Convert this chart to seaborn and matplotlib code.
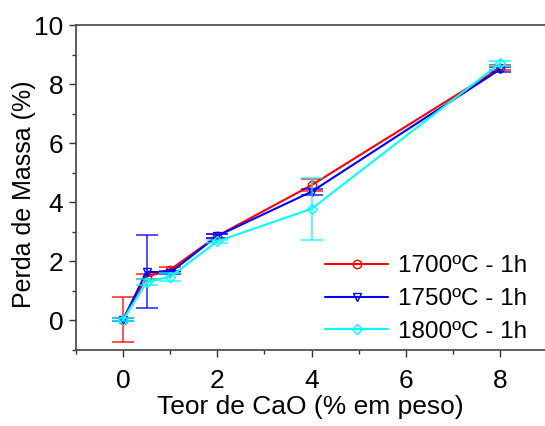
import numpy as np
import pandas as pd
import matplotlib
matplotlib.use("Agg")
import matplotlib.pyplot as plt
import seaborn as sns

# CaO content (% by weight)
teor_cao = [0, 0.5, 1, 2, 4, 8]

# mass loss (%) for each temperature, and the error bars
perda_1700 = [0.03, 1.48, 1.72, 2.86, 4.58, 8.55]
erro_1700 = [0.75, 0.08, 0.08, 0.06, 0.20, 0.08]
perda_1750 = [0.03, 1.65, 1.62, 2.86, 4.36, 8.50]
erro_1750 = [0.05, 1.24, 0.06, 0.06, 0.10, 0.08]
perda_1800 = [0.03, 1.29, 1.48, 2.68, 3.78, 8.70]
erro_1800 = [0.05, 0.10, 0.14, 0.06, 1.05, 0.08]

rotulos = ["1700ºC - 1h", "1750ºC - 1h", "1800ºC - 1h"]
cores = ["#ff0000", "#0000ff", "#00ffff"]
marcadores = ["o", "v", "D"]

sns.set_style("white")
plt.rcParams["font.family"] = ["Liberation Sans", "DejaVu Sans"]
plt.rcParams["text.color"] = "black"
plt.rcParams["axes.labelcolor"] = "black"
plt.rcParams["xtick.color"] = "black"
plt.rcParams["ytick.color"] = "black"

fig = plt.figure(figsize=(5.45, 4.26), dpi=100)
ax = fig.add_axes([0.1394, 0.1784, 0.882, 0.7629])

series = [(perda_1700, erro_1700), (perda_1750, erro_1750), (perda_1800, erro_1800)]
for (y, err), lab, c, m in zip(series, rotulos, cores, marcadores):
    df = pd.DataFrame({"x": teor_cao, "y": y})
    ax.errorbar(teor_cao, y, yerr=err, fmt="none", ecolor=c, elinewidth=1.2,
                capsize=8, capthick=1.2, alpha=0.8)
    sns.lineplot(data=df, x="x", y="y", ax=ax, color=c, marker=m, label=lab,
                 linewidth=1.5, markersize=6 if m != "D" else 5,
                 markerfacecolor="none", markeredgecolor=c, markeredgewidth=1.0)

ax.set_xlim(-0.97, 9.2)
ax.set_ylim(-0.72, 10)
ax.set_xticks([0, 2, 4, 6, 8])
ax.set_xticks(np.arange(-1, 10, 1), minor=True)
ax.set_yticks([0, 2, 4, 6, 8, 10])
ax.set_yticks(np.arange(-1, 11, 1), minor=True)
ax.tick_params(axis="both", which="major", direction="out", length=5, width=1,
               labelsize=19, color="#333333", labelcolor="black",
               bottom=True, left=True)
ax.tick_params(axis="both", which="minor", direction="out", length=3, width=1,
               color="#333333", bottom=True, left=True)
ax.tick_params(axis="x", which="major", pad=9)
ax.tick_params(axis="y", which="major", pad=4)
ax.spines["right"].set_visible(False)
for s in ["left", "bottom", "top"]:
    ax.spines[s].set_color("#444444")
    ax.spines[s].set_linewidth(1.2)

ax.set_xlabel("Teor de CaO (% em peso)", fontsize=19, color="black")
ax.set_ylabel("Perda de Massa (%)", fontsize=18, color="black")
ax.xaxis.set_label_coords(0.487, -0.138)
ax.yaxis.set_label_coords(-0.083, 0.48)

leg = ax.legend(loc="lower right", bbox_to_anchor=(0.985, 0.172),
                bbox_transform=fig.transFigure, frameon=False, fontsize=17.5,
                handlelength=2.6, handletextpad=0.4, labelspacing=0.45,
                borderaxespad=0)
for t in leg.get_texts():
    t.set_color("black")

fig.savefig("out.png", dpi=100)
